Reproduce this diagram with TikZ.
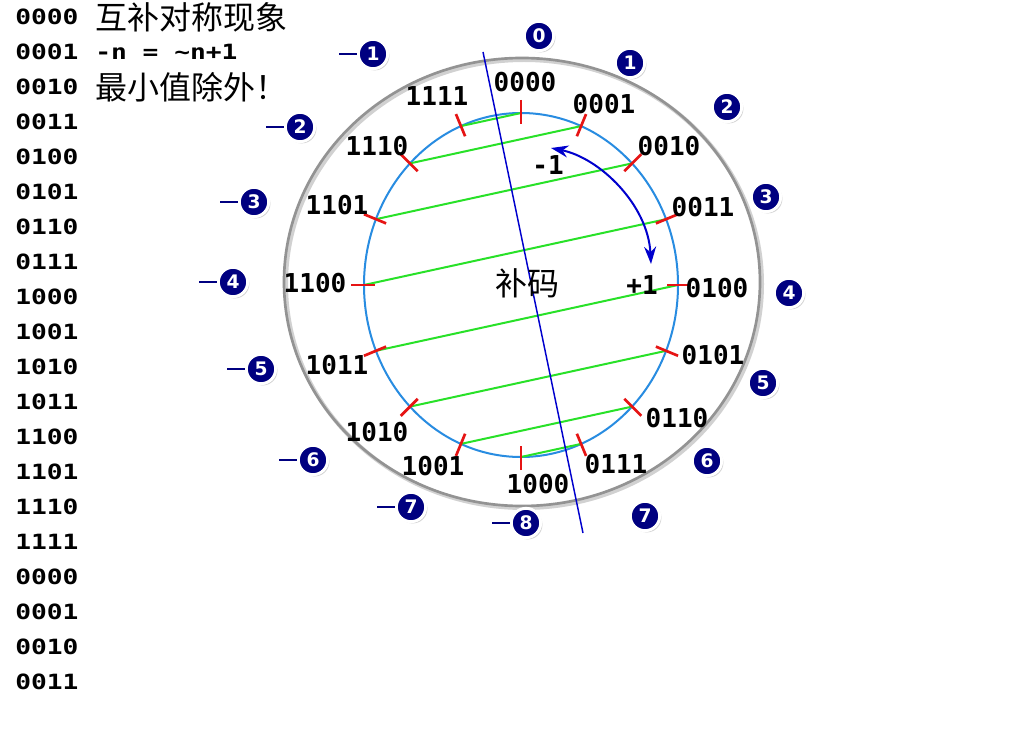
\documentclass[tikz,border=0pt]{standalone}
\usepackage{fontspec}
\setmainfont{DejaVu Sans}
\newfontfamily\cjkfont{Noto Sans CJK SC}
\newfontfamily\bitsfont{DejaVu Sans Mono}
\newfontfamily\bitswide[FakeStretch=1.25]{DejaVu Sans Mono}
\usetikzlibrary{arrows.meta,shadows}
\definecolor{navymark}{RGB}{0,0,128}
\definecolor{ringblue}{RGB}{40,140,225}
\definecolor{axisblue}{RGB}{0,0,205}
\definecolor{chordgreen}{RGB}{40,225,40}
\definecolor{tickred}{RGB}{230,20,20}

\begin{document}
\begin{tikzpicture}[x=0.75pt,y=-0.75pt,
		bits/.style={font=\bitsfont\bfseries\fontsize{19.5}{22}\selectfont,inner sep=0pt},
		colbits/.style={font=\bitswide\bfseries\fontsize{15.75}{18}\selectfont,inner sep=0pt,anchor=west},
		cjktext/.style={font=\cjkfont\fontsize{24}{27}\selectfont,inner sep=0pt},
		orbit/.style={circle,fill=navymark,draw=white,line width=2.2pt,minimum size=22pt,inner sep=0pt,
			text=white,font=\bfseries\fontsize{14}{14}\selectfont,
			drop shadow={shadow xshift=1.3pt,shadow yshift=-1.3pt,opacity=0.35}},
		minusbar/.style={navymark,line width=1.6pt},
		redtick/.style={tickred,line width=2pt},
		chord/.style={chordgreen,line width=1.5pt}]
	\fill[white] (0,0) rectangle (1024,738);
	\useasboundingbox (0,0) rectangle (1024,738);
	% column of 4-bit codes on the left
	\foreach \v [count=\k from 0] in {0000,0001,0010,0011,0100,0101,0110,0111,
		1000,1001,1010,1011,1100,1101,1110,1111,0000,0001,0010,0011} {
		\node[colbits] (col\k) at (15,{17+35*\k}) {\v};
	}
	\node[cjktext,anchor=west] (title) at (95,17) {互补对称现象};
	\node[colbits] (rule) at (95,52) {-n = \textasciitilde n+1};
	\node[cjktext,anchor=west] (except) at (95,87) {最小值除外！};
	% outer ring with a soft shadow
	\draw[black!18,line width=3pt] (524,284) ellipse [x radius=238,y radius=224];
	\draw[gray!85,line width=2pt] (522,282) ellipse [x radius=238,y radius=224];
	% inner ring of the 16 codes
	\draw[ringblue,line width=1.5pt] (521,285) ellipse [x radius=157,y radius=172];
	\foreach \i in {0,...,15} {
		\pgfmathsetmacro\ang{90-22.5*\i}
		\coordinate (t\i) at ({521+157*cos(\ang)},{285-172*sin(\ang)});
	}
	% n and ~n joined
	\foreach \i in {0,...,7} {
		\pgfmathtruncatemacro\j{15-\i}
		\draw[chord] (t\i) -- (t\j);
	}
	\foreach \i in {0,...,15} {
		\pgfmathsetmacro\ang{90-22.5*\i}
		\draw[redtick] ({521+170*cos(\ang)},{285-185*sin(\ang)}) -- ({521+146*cos(\ang)},{285-161*sin(\ang)});
	}
	% symmetry axis
	\coordinate (axtop) at (483,52);
	\coordinate (axbot) at (583,533);
	\draw[axisblue,line width=1.1pt] (axtop) -- (axbot);
	\foreach \i/\w/\lx/\ly in {0/0000/525/82, 1/0001/604/104, 2/0010/669/146, 3/0011/703/207,
		4/0100/717/288, 5/0101/713/355, 6/0110/677/418, 7/0111/616/464,
		8/1000/538/484, 9/1001/433/466, 10/1010/377/432, 11/1011/337/365,
		12/1100/315/283, 13/1101/337/205, 14/1110/377/146, 15/1111/437/96} {
		\node[bits] (b\i) at (\lx,\ly) {\w};
	}
	\node[bits] (minus1) at (548,165) {-1};
	\node[bits] (plus1) at (642,285) {+1};
	\node[cjktext] (bucode) at (527,283) {补码};
	\coordinate (arcup) at (551,148);
	\coordinate (arcdown) at (651,264);
	\draw[axisblue,line width=1.5pt,{Stealth[length=13pt,width=9pt]}-{Stealth[length=13pt,width=9pt]}]
		(arcup) .. controls (600,158) and (648,205) .. (arcdown);
	% step markers, right side positive, left side negative
	\foreach \n/\x/\y in {0/539/36, 1/630/63, 2/727/107, 3/766/197,
		4/789/293, 5/763/383, 6/707/461, 7/645/516} {
		\node[orbit] (r\n) at (\x,\y) {\n};
	}
	\foreach \n/\x/\y in {1/373/54, 2/300/127, 3/254/202, 4/233/282,
		5/261/369, 6/313/460, 7/411/507, 8/526/523} {
		\node[orbit] (l\n) at (\x,\y) {\n};
		\draw[minusbar] (l\n.west) -- ++(-18,0);
	}
\end{tikzpicture}
\end{document}
